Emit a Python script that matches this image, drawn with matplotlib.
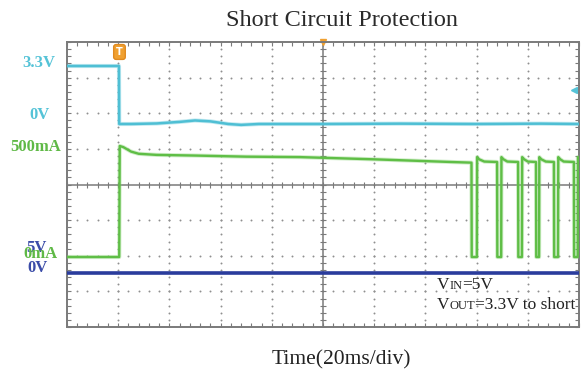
import matplotlib
matplotlib.use("Agg")
import matplotlib.pyplot as plt
from matplotlib.offsetbox import TextArea, HPacker, AnnotationBbox

# --- scope traces (time in ms, 20 ms/div) ---
t_vout = [0, 20.3, 20.4, 25, 35, 44, 50, 56, 63, 68, 75, 100, 130, 160, 185, 200]
v_out = [3.3, 3.3, 0.0, 0.0, 0.03, 0.12, 0.2, 0.15, 0.0, -0.05, 0.0, 0.0, 0.02, 0.0, 0.02, 0.0]

t_iout = [0, 20.4, 20.6, 22, 25, 28, 35, 50, 70, 91, 120, 150, 158.0,
          158.1, 160.1, 160.2, 161.0, 163.0, 168.0,
          168.1, 169.6, 169.7, 170.5, 172.0, 176.2,
          176.3, 177.7, 177.8, 178.6, 180.0, 183.2,
          183.3, 184.4, 184.5, 185.3, 187.0, 190.2,
          190.3, 191.8, 191.9, 192.7, 194.0, 198.0,
          198.1, 199.5, 199.6, 200]
i_out = [0, 0, 500, 495, 475, 465, 460, 457, 452, 450, 440, 428, 425,
         0, 0, 450, 440, 430, 428,
         0, 0, 450, 440, 430, 428,
         0, 0, 450, 440, 430, 428,
         0, 0, 450, 440, 430, 428,
         0, 0, 450, 440, 430, 428,
         0, 0, 450, 440]

t_vin = [0, 200]
v_in = [5.0, 5.0]

# channel labels at the left of the screen: (text, colour, right px, centre px)
ch_labels = [("3.3V", "#55c3d7", 55, 63),
             ("0V", "#55c3d7", 50, 115),
             ("500mA", "#5fb946", 61, 147),
             ("5V", "#3b4ca8", 47, 248),
             ("0mA", "#5fb946", 57, 254),
             ("0V", "#3b4ca8", 48, 268)]

W, H = 584, 376
SERIF = "Liberation Serif"
GRIDC = "#8f8f8f"
FRAME = "#7a7a7a"

fig = plt.figure(figsize=(W / 100, H / 100), dpi=100)
pos = [67 / W, 1 - 327 / H, 512 / W, 285 / H]
ax = fig.add_axes(pos)
ax.set_xlim(0, 200)
ax.set_ylim(-4, 4)

# dotted graticule
xs, ys = [], []
for gx in range(20, 200, 20):
    if gx == 100:
        continue
    for k in range(41):
        xs.append(gx)
        ys.append(-4 + k * 0.2)
for gy in range(-3, 4):
    if gy == 0:
        continue
    for k in range(51):
        xs.append(k * 4)
        ys.append(gy)
ax.plot(xs, ys, ls="none", marker="o", ms=1.4, color=GRIDC, mec="none")

# centre crosshair with minor ticks
ax.axvline(100, color=FRAME, lw=1.1)
ax.axhline(0, color=FRAME, lw=1.1)
ax.plot([100] * 41, [-4 + k * 0.2 for k in range(41)], ls="none",
        marker="_", ms=5, mew=0.8, color=FRAME)
ax.plot([k * 4 for k in range(51)], [0] * 51, ls="none",
        marker="|", ms=5, mew=0.8, color=FRAME)

ax.set_xticks(range(0, 201, 20))
ax.set_xticks(range(0, 201, 4), minor=True)
ax.set_yticks(range(-4, 5))
ax.set_yticks([-4 + k * 0.2 for k in range(41)], minor=True)
ax.tick_params(which="both", direction="in", length=3, width=0.8, color=FRAME,
               top=True, right=True, labelbottom=False, labelleft=False)
for s in ax.spines.values():
    s.set_color(FRAME)
    s.set_linewidth(1.4)

# one overlay axes per channel, each with its own vertical scale
def channel_axes(ylim):
    a = fig.add_axes(pos, sharex=ax)
    a.set_ylim(*ylim)
    a.axis("off")
    return a

ax_vin = channel_axes((-2.58, 37.44))
ax_vout = channel_axes((-11.55, 4.665))
ax_iout = channel_axes((-315.3, 968.5))

ax_vin.plot(t_vin, v_in, color="#2a3c9c", lw=2.6)
ax_vout.plot(t_vout, v_out, color="#55c3d7", lw=3.0, alpha=0.35)
ax_vout.plot(t_vout, v_out, color="#4fbfd4", lw=1.8)
ax_iout.plot(t_iout, i_out, color="#7fcf6a", lw=3.0, alpha=0.35)
ax_iout.plot(t_iout, i_out, color="#5fbe46", lw=1.7)

# trigger / position markers
ax.text(20.5, 3.72, "T", color="white", fontsize=7, fontweight="bold",
        ha="center", va="center",
        bbox=dict(boxstyle="round,pad=0.25", fc="#f0a030", ec="#e08a20"))
ax.plot([100], [4.0], marker="v", ms=5, color="#f0a030", clip_on=False)
ax.plot([198], [2.64], marker="<", ms=5, color="#55c3d7")

for txt, col, px, py in ch_labels:
    fig.text(px / W, 1 - py / H, txt, color=col, fontsize=12, fontweight="bold",
             family=SERIF, ha="right", va="center")

fig.text(342 / W, 1 - 21 / H, "Short Circuit Protection", fontsize=17.5,
         family=SERIF, color="#2a2a2a", ha="center", va="center")
fig.text(341 / W, 1 - 360 / H, "Time(20ms/div)", fontsize=15.5,
         family=SERIF, color="#222222", ha="center", va="center")

# operating conditions, with small-caps subscripts
def cond_text(parts, xy):
    kids = [TextArea(s, textprops=dict(fontsize=fs, family=SERIF, color="#222222"))
            for s, fs in parts]
    box = HPacker(children=kids, align="baseline", pad=0, sep=0)
    ab = AnnotationBbox(box, xy, xycoords="data", box_alignment=(0, 0),
                        frameon=False, pad=0)
    ax.add_artist(ab)

cond_text([("V", 12.5), ("IN", 9), ("=5V", 12.5)], (144.5, -3.05))
cond_text([("V", 12.5), ("OUT", 9), ("=3.3V to short", 12.5)], (144.5, -3.62))

fig.savefig("out.png", dpi=100)
